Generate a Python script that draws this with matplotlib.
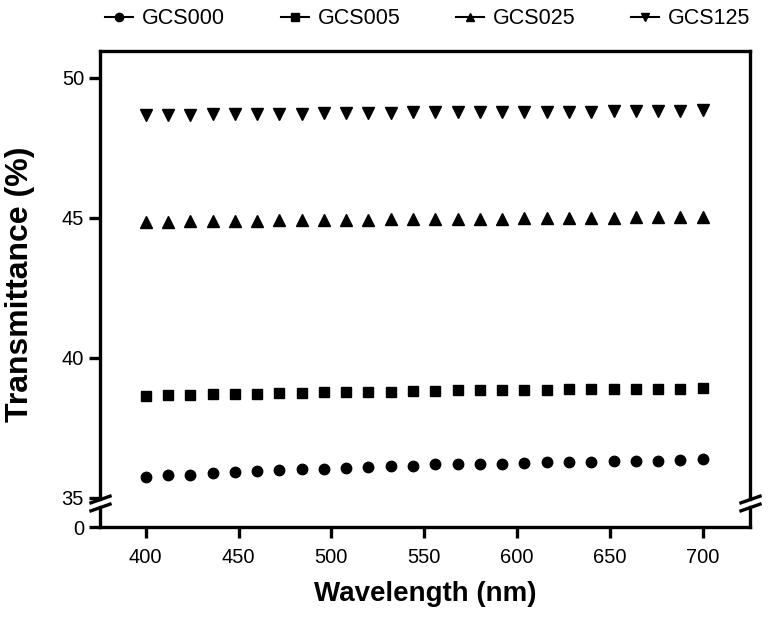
import matplotlib
matplotlib.use("Agg")
import matplotlib.pyplot as plt
from matplotlib.lines import Line2D

# wavelength grid (nm)
wavelength = [400, 412, 424, 436, 448, 460, 472, 484, 496, 508, 520, 532, 544,
              556, 568, 580, 592, 604, 616, 628, 640, 652, 664, 676, 688, 700]

# transmittance (%)
gcs000 = [35.76, 35.81, 35.81, 35.89, 35.93, 35.96, 36.00, 36.02, 36.05, 36.08,
          36.10, 36.14, 36.15, 36.20, 36.20, 36.23, 36.23, 36.26, 36.29, 36.30,
          36.30, 36.32, 36.33, 36.33, 36.37, 36.38]
gcs005 = [38.65, 38.68, 38.68, 38.71, 38.71, 38.71, 38.74, 38.74, 38.77, 38.77,
          38.79, 38.79, 38.83, 38.83, 38.84, 38.85, 38.86, 38.86, 38.87, 38.88,
          38.88, 38.89, 38.89, 38.90, 38.90, 38.91]
gcs025 = [44.86, 44.87, 44.88, 44.89, 44.90, 44.90, 44.91, 44.92, 44.93, 44.93,
          44.94, 44.95, 44.95, 44.96, 44.97, 44.97, 44.98, 44.99, 44.99, 45.00,
          45.00, 45.01, 45.02, 45.02, 45.03, 45.04]
gcs125 = [48.68, 48.68, 48.69, 48.70, 48.70, 48.71, 48.72, 48.73, 48.74, 48.74,
          48.75, 48.76, 48.77, 48.77, 48.77, 48.78, 48.78, 48.78, 48.79, 48.79,
          48.80, 48.81, 48.81, 48.82, 48.83, 48.84]

series = [
    ("GCS000", gcs000, "o", 7.5),
    ("GCS005", gcs005, "s", 6.5),
    ("GCS025", gcs025, "^", 8),
    ("GCS125", gcs125, "v", 8),
]

x_ticks = [400, 450, 500, 550, 600, 650, 700]
y_ticks_top = [35, 40, 45, 50]

LW = 2.4
plt.rcParams["font.family"] = ["Liberation Sans", "DejaVu Sans"]

fig = plt.figure(figsize=(7.71, 6.18), dpi=100)
ax_top = fig.add_axes([0.1297, 0.1926, 0.8431, 0.7249])
ax_bot = fig.add_axes([0.1297, 0.1472, 0.8431, 0.0324])

for name, vals, mk, ms in series:
    ax_top.plot(wavelength, vals, linestyle="none", marker=mk, markersize=ms,
                color="black")

for ax in (ax_top, ax_bot):
    ax.set_xlim(375.4, 725.5)
    for s in ax.spines.values():
        s.set_linewidth(LW)
    ax.tick_params(direction="out", length=8, width=LW, labelsize=14.5)

ax_top.set_ylim(34.964, 50.964)
ax_top.set_yticks(y_ticks_top)
ax_top.spines["bottom"].set_visible(False)
ax_top.tick_params(axis="x", bottom=False, labelbottom=False)

ax_bot.set_ylim(0, 1)
ax_bot.set_yticks([0])
ax_bot.spines["top"].set_visible(False)
ax_bot.set_xticks(x_ticks)
ax_bot.tick_params(axis="x", pad=7)

# break marks
d = 0.35
kw = dict(marker=[(-1, -d), (1, d)], markersize=16, linestyle="none",
          color="k", mec="k", mew=LW, clip_on=False)
ax_top.plot([0, 1], [0, 0], transform=ax_top.transAxes, **kw)
ax_bot.plot([0, 1], [1, 1], transform=ax_bot.transAxes, **kw)

ax_bot.set_xlabel("Wavelength (nm)", fontsize=20, fontweight="bold",
                  labelpad=10)
ax_top.set_ylabel("Transmittance (%)", fontsize=23, fontweight="bold")
ax_top.yaxis.set_label_coords(-0.10, 0.48)

handles = [Line2D([], [], color="black", linewidth=1.5, marker=mk,
                  markersize=ms * 0.8) for _, _, mk, ms in series]
fig.legend(handles, [s[0] for s in series], loc="center", ncol=4,
           bbox_to_anchor=(0.555, 0.970), frameon=False, fontsize=15.5,
           handlelength=1.3, handletextpad=0.4, columnspacing=2.6)

fig.savefig("out.png", dpi=100)
